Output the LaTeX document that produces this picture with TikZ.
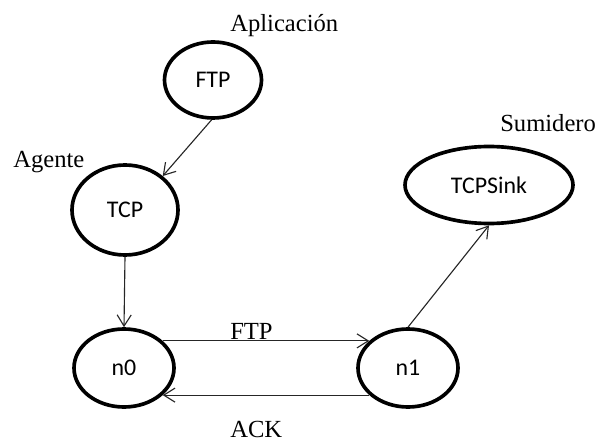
\documentclass[tikz,border=0pt]{standalone}
\usepackage{fontspec}
\setmainfont{Liberation Serif}
\newfontfamily\sansnodes{Carlito}
\usetikzlibrary{shapes.geometric,arrows.meta}

\tikzset{
  agent/.style={ellipse, draw, line width=2.6pt, inner sep=0pt,
    font=\sansnodes\fontsize{17}{20}\selectfont},
  tag/.style={anchor=base west, inner sep=0pt, font=\fontsize{17.5}{20}\selectfont},
  link/.style={line width=0.8pt, draw=black!85},
  >={Straight Barb[length=8pt,width=10pt]},
}

\begin{document}
\begin{tikzpicture}
            \useasboundingbox (0,0) rectangle (14.925,11.05);

            \node[agent, minimum width=2.425cm, minimum height=1.9cm] (ftp) at (5.325, 9.05) {FTP};
            \node[agent, minimum width=2.65cm, minimum height=2.25cm] (tcp) at (3.125, 5.8) {TCP};
            \node[agent, minimum width=4.2cm, minimum height=1.925cm] (sink) at (12.225, 6.425) {TCPSink};
            \node[agent, minimum width=2.5cm, minimum height=1.95cm] (n0) at (3.1, 1.85) {n0};
            \node[agent, minimum width=2.5cm, minimum height=1.95cm] (n1) at (10.2, 1.85) {n1};

            \node[tag] (app) at (5.75, 10.25) {Aplicación};
            \node[tag] (agt) at (0.325, 6.85) {Agente};
            \node[tag] (sum) at (12.5, 7.75) {Sumidero};
            \node[tag] (data) at (5.75, 2.575) {FTP};
            \node[tag] (ack) at (5.75, 0.12) {ACK};

            \draw[link, ->] (ftp.268) -- (tcp.42);
            \draw[link, ->] (tcp.south) -- (n0.north);
            \draw[link, ->] (n1.north) -- (sink.south);
            \draw[link, ->] (n0.35) -- (n1.145);
            \draw[link, ->] (n1.215) -- (n0.325);
        \end{tikzpicture}
\end{document}
